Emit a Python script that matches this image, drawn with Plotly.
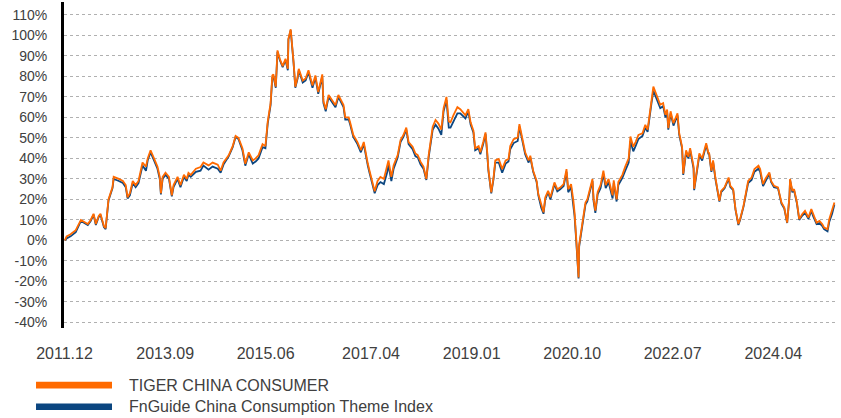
import pandas as pd
import plotly.graph_objects as go

# Decimal-year time stamps
t_year = [
    2011.92, 2011.95, 2012.02, 2012.11, 2012.20, 2012.25, 2012.32, 2012.37, 2012.42, 2012.46,
    2012.51, 2012.54, 2012.60, 2012.63, 2012.68, 2012.75, 2012.77, 2012.86, 2012.93, 2012.98,
    2013.01, 2013.05, 2013.10, 2013.15, 2013.20, 2013.27, 2013.33, 2013.36, 2013.41, 2013.47,
    2013.53, 2013.57, 2013.59, 2013.62, 2013.67, 2013.73, 2013.78, 2013.81, 2013.88, 2013.93,
    2013.99, 2014.04, 2014.07, 2014.11,
    2014.20, 2014.28, 2014.33, 2014.42, 2014.49, 2014.58, 2014.63, 2014.68, 2014.77, 2014.84,
    2014.89, 2014.94, 2015.01, 2015.06, 2015.12, 2015.19, 2015.24, 2015.29, 2015.36, 2015.41,
    2015.45, 2015.50, 2015.53, 2015.55, 2015.59, 2015.62, 2015.66, 2015.71, 2015.76, 2015.80,
    2015.81, 2015.85, 2015.88, 2015.90, 2015.93, 2015.97, 2015.99, 2016.06, 2016.11, 2016.16,
    2016.23, 2016.28, 2016.33, 2016.40, 2016.42, 2016.46,
    2016.51, 2016.58, 2016.63, 2016.68, 2016.73, 2016.77, 2016.80, 2016.86, 2016.89, 2016.94,
    2017.01, 2017.07, 2017.12, 2017.15, 2017.19, 2017.22, 2017.27, 2017.31, 2017.36, 2017.41,
    2017.47, 2017.53, 2017.55, 2017.60, 2017.64, 2017.71, 2017.76, 2017.81, 2017.86, 2017.90,
    2017.97, 2018.02, 2018.06, 2018.11, 2018.16, 2018.21, 2018.25, 2018.32, 2018.37, 2018.42,
    2018.47, 2018.51, 2018.56, 2018.60, 2018.63,
    2018.68, 2018.75, 2018.80, 2018.89, 2018.94, 2018.98, 2019.03, 2019.06, 2019.12, 2019.15,
    2019.20, 2019.24, 2019.27, 2019.29, 2019.34, 2019.38, 2019.41, 2019.47, 2019.53, 2019.59,
    2019.64, 2019.67, 2019.73, 2019.80, 2019.83, 2019.88, 2019.93, 2019.99, 2020.02, 2020.07,
    2020.13, 2020.16, 2020.21, 2020.25, 2020.28, 2020.33, 2020.37, 2020.44, 2020.49, 2020.54,
    2020.60, 2020.65, 2020.68, 2020.73, 2020.77, 2020.79, 2020.82, 2020.86, 2020.87, 2020.93,
    2020.98,
    2021.01, 2021.07, 2021.10, 2021.12, 2021.15, 2021.19, 2021.24, 2021.29, 2021.33, 2021.38,
    2021.45, 2021.47, 2021.52, 2021.55, 2021.62, 2021.67, 2021.73, 2021.76, 2021.81, 2021.85,
    2021.90, 2021.97, 2022.02, 2022.06, 2022.09, 2022.13, 2022.16, 2022.20, 2022.23, 2022.28,
    2022.33, 2022.37, 2022.40, 2022.42, 2022.46, 2022.51, 2022.58, 2022.61, 2022.66, 2022.68,
    2022.73, 2022.77, 2022.80, 2022.86, 2022.87, 2022.93, 2022.96, 2023.01, 2023.08, 2023.12,
    2023.13, 2023.17, 2023.20, 2023.24, 2023.27, 2023.31, 2023.34, 2023.40, 2023.47, 2023.50,
    2023.55, 2023.59, 2023.64, 2023.67, 2023.73, 2023.76, 2023.81, 2023.87, 2023.92, 2023.99,
    2024.02, 2024.07, 2024.11, 2024.18, 2024.21, 2024.26, 2024.33, 2024.39, 2024.44, 2024.49,
    2024.53, 2024.54, 2024.58, 2024.61, 2024.66, 2024.70, 2024.75, 2024.80, 2024.86, 2024.91,
    2024.94, 2025.00, 2025.05, 2025.10, 2025.13, 2025.19, 2025.22, 2025.27, 2025.31,
]

# TIGER CHINA CONSUMER cumulative return (%)
tiger = [
    0, 2, 3, 5, 10, 9, 8, 10, 13, 8,
    12, 13, 7, 6, 20, 26, 31, 30, 29, 27,
    21, 23, 29, 27, 29, 38, 36, 40, 44, 40,
    36, 31, 23, 31, 33, 31, 22, 27, 31, 27,
    32, 30, 33, 32,
    35, 35.8, 38, 36.6, 38, 37, 34, 38, 41.5, 46,
    51, 50, 45, 37.4, 43, 39, 40, 41.5, 47, 46,
    58, 67, 80.5, 81, 75, 92.7, 88.6, 85, 88.6, 83.7,
    98.4, 103, 94, 87, 75, 79.7, 83.7, 78, 79, 83,
    75.6, 80.5, 72.4, 81, 68, 64,
    71, 67.7, 66, 71, 67.7, 66, 60, 60, 57, 51.4,
    48, 44, 48, 43, 37.5, 34, 28.5, 24, 29, 31,
    30, 36, 39, 31, 36.7, 41.6, 49, 51.4, 55, 48,
    45.7, 42.4, 41.6, 38.3, 36, 30, 41.6, 55.5, 58.8, 57,
    54, 64.5, 70, 58, 57.6,
    61, 65, 64, 61, 64, 57.6, 53.5, 45, 46, 43,
    48, 52.7, 43, 34.8, 23.4, 30.7, 39, 39.7, 34.8, 39,
    39.7, 46, 49.4, 50.2, 56.7, 49.4, 43, 39, 41.3, 34,
    29, 22.6, 17, 13.7, 21, 24.2, 21, 28.3, 25, 25.8,
    27.5, 34.8, 25, 27.5, 19.3, 13.7, 0.6, -18, -2, 9.6,
    18.5,
    20, 27, 30, 20, 14.6, 23.6, 27, 34, 27, 30,
    22, 29.3, 20, 28.5, 32, 36, 40, 50.7, 45.7, 48,
    51.5, 52.3, 56.4, 54, 61.3, 68.7, 75, 72, 70.3, 66.2,
    67, 61.3, 63.8, 54.8, 63, 57.2, 62, 52.3, 45.7, 32.6,
    44, 40.8, 45, 36, 25.2, 38.4, 42.5, 40, 47.4, 42.5,
    43, 34, 39, 30.7, 25, 19.3, 24.2, 25.9, 30.7, 26.7,
    25, 15.3, 8, 10.4, 17, 21, 29, 30.7, 34.8, 36.5,
    34.8, 27.5, 30, 33.2, 29, 26.7, 25.9, 18.5, 16, 8.7,
    21.8, 30, 24.2, 25, 18.5, 10.4, 12.8, 14.4, 11.2, 15.3,
    12.8, 8.7, 9.5, 7.9, 6.3, 5.5, 10.4, 14.4, 18.5,
]

# FnGuide China Consumption Theme Index cumulative return (%)
fnguide = [
    0, 1, 2, 4, 9.5, 8.5, 7.5, 9.5, 12.5, 7.5,
    11.5, 12.5, 6.5, 5.5, 19.5, 25.5, 30, 29, 28, 26,
    20.5, 22, 28, 26, 28, 36.5, 34, 39, 43, 39,
    35, 30, 22.5, 30, 32, 30, 21.5, 26, 30, 26,
    31, 29, 32, 31,
    33.5, 34, 36.5, 34.5, 36, 35, 33, 37, 41, 45.5,
    50.5, 49.5, 44, 36.5, 42, 37.5, 38.5, 40, 45.5, 45,
    57, 66, 79.5, 80, 74.5, 92, 88, 84.5, 88, 83,
    98, 102.5, 93.5, 86.5, 74.5, 79, 83, 77, 78, 82,
    74.5, 79.5, 71.5, 80, 67, 63,
    70, 67, 65, 70, 67, 65, 59, 59, 56, 50.5,
    47, 43, 47, 42, 36.5, 33, 27.5, 23, 27, 28.5,
    27.5, 33.5, 37, 29, 35, 40.5, 48, 50.5, 54, 47,
    44.5, 41, 40.5, 37, 35, 29.5, 40.5, 54, 56.5, 54.5,
    51.5, 63, 68.5, 55, 55,
    58, 62, 62, 59.5, 63, 56.5, 52.5, 44, 45, 42,
    47, 52, 42, 34, 23, 30, 38, 38, 33, 37.5,
    38.5, 44.5, 47.5, 48.5, 55.5, 48.5, 42, 38, 40.5, 33.5,
    28.5, 22, 16, 13, 20, 23.5, 20, 27.5, 24, 25,
    26.5, 33.5, 23.5, 26, 17.5, 12, -0.5, -18.5, -3, 9,
    17.5,
    19, 26, 29, 19, 13.5, 22.5, 25.5, 32.5, 25.5, 28.5,
    20.5, 28, 19, 27, 30.5, 34, 38, 48.5, 43.5, 46,
    49.5, 51, 55, 53, 60, 67.5, 73, 70, 68.5, 64.5,
    65.5, 60, 62.5, 54, 62, 56, 61, 51.5, 45, 32,
    43, 40, 44, 35, 24.5, 37.5, 41.5, 39, 46.5, 42,
    42.5, 33.5, 38.5, 30, 24.5, 19, 23.5, 25.5, 30, 26,
    24.5, 15, 7.5, 10, 16.5, 20.5, 28, 29.5, 33.5, 35,
    33.5, 26.5, 29, 32.5, 28.5, 26, 25.5, 18, 15.5, 8.5,
    21.5, 29.5, 23.5, 24.5, 18, 10, 12, 13.5, 10.5, 14.5,
    12, 8, 8.5, 7, 5.5, 4.5, 9, 13, 17.5,
]

tick_dates = ["2011-12-01", "2013-09-01", "2015-06-01", "2017-04-01",
              "2019-01-01", "2020-10-01", "2022-07-01", "2024-04-01"]
tick_labels = ["2011.12", "2013.09", "2015.06", "2017.04",
               "2019.01", "2020.10", "2022.07", "2024.04"]
y_ticks = list(range(-40, 111, 10))
y_labels = [f"{v}%" for v in y_ticks]

series_names = ["TIGER CHINA CONSUMER", "FnGuide China Consumption Theme Index"]
orange = "#FF6A00"
navy = "#0B4680"


def to_date(y):
    yr = int(y)
    return pd.Timestamp(year=yr, month=1, day=1) + pd.Timedelta(days=(y - yr) * 365.25)


dates = [to_date(y) for y in t_year]

fig = go.Figure()
fig.add_trace(go.Scatter(x=dates, y=fnguide, mode="lines", name=series_names[1],
                         line=dict(color=navy, width=1.8)))
fig.add_trace(go.Scatter(x=dates, y=tiger, mode="lines", name=series_names[0],
                         line=dict(color=orange, width=1.8)))

font_family = "Liberation Sans, Arial, sans-serif"
text_color = "#404040"

fig.update_layout(
    width=841, height=418,
    margin=dict(l=64, r=4, t=2, b=90),
    plot_bgcolor="white", paper_bgcolor="white",
    showlegend=False,
    font=dict(family=font_family, color=text_color),
)
fig.update_xaxes(
    type="date", automargin=False,
    range=[to_date(2011.905), to_date(2025.355)],
    tickvals=tick_dates, ticktext=tick_labels,
    showgrid=False, showline=False, zeroline=False,
    ticks="", ticklabelstandoff=14,
    tickfont=dict(size=16, color=text_color),
)
fig.update_yaxes(
    automargin=False,
    range=[-42.7, 116.3],
    tickvals=y_ticks, ticktext=y_labels,
    showgrid=True, gridcolor="#B0B0B0", gridwidth=1, griddash="dot",
    zeroline=False, showline=True, linecolor="black", linewidth=3,
    ticks="", ticklabelstandoff=11,
    tickfont=dict(size=14, color=text_color),
)

# Legend drawn below the plot with wide swatches
legend_rows = [(series_names[0], orange, -0.175), (series_names[1], navy, -0.2415)]
for name, col, yc in legend_rows:
    fig.add_shape(type="rect", xref="paper", yref="paper",
                  x0=-0.0362, x1=0.0621, y0=yc - 0.0102, y1=yc + 0.0102,
                  fillcolor=col, line=dict(width=0))
    fig.add_annotation(xref="paper", yref="paper", x=0.0815, y=yc,
                       xanchor="left", yanchor="middle", showarrow=False,
                       text=name, font=dict(size=16, color=text_color))

fig.write_html("out.html", config={"displayModeBar": False},
               post_script="document.body.style.margin='0';")
